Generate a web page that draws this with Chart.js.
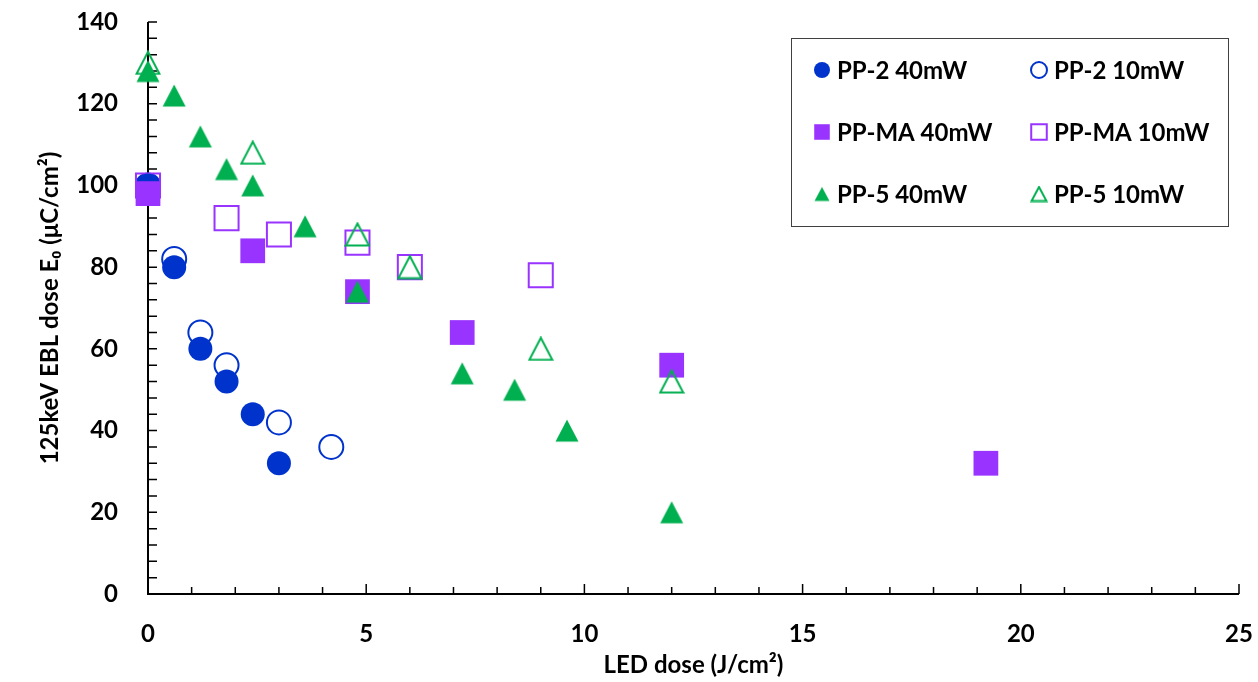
<!DOCTYPE html>
<html lang="en">
<head>
<meta charset="UTF-8">
<title>EBL dose vs LED dose</title>
<script src="https://cdn.jsdelivr.net/npm/chart.js"></script>
<style>
  body { margin: 0; background: #fff; }
  #wrap { width: 1258px; height: 682px; }
</style>
</head>
<body>
<div id="wrap"><canvas id="chart"></canvas></div>
<script>
// data
const pp2_40_x = [0, 0.6, 1.2, 1.8, 2.4, 3.0];
const pp2_40_y = [100, 80, 60, 52, 44, 32];
const pp2_10_x = [0, 0.6, 1.2, 1.8, 3.0, 4.2];
const pp2_10_y = [100, 82, 64, 56, 42, 36];
const ppma_40_x = [0, 2.4, 4.8, 7.2, 12, 19.2];
const ppma_40_y = [98, 84, 74, 64, 56, 32];
const ppma_10_x = [0, 1.8, 3.0, 4.8, 6.0, 9.0];
const ppma_10_y = [100, 92, 88, 86, 80, 78];
const pp5_40_x = [0, 0.6, 1.2, 1.8, 2.4, 3.6, 4.8, 7.2, 8.4, 9.6, 12];
const pp5_40_y = [128, 122, 112, 104, 100, 90, 74, 54, 50, 40, 20];
const pp5_10_x = [0, 2.4, 4.8, 6.0, 9.0, 12];
const pp5_10_y = [130, 108, 88, 80, 60, 52];

const xTicks = [0, 5, 10, 15, 20, 25];
const yTicks = [0, 20, 40, 60, 80, 100, 120, 140];

const BLUE = '#0033CC', PURPLE = '#9933FF', GREEN = '#00B050';
const FONT = 'Lato, "Open Sans", sans-serif';

function pts(xs, ys) { return xs.map((x, i) => ({ x: x, y: ys[i] })); }

// excel-like triangle, centred in its own box
function tri(w, h, filled, color) {
    const c = document.createElement('canvas');
    c.width = w; c.height = h;
    const g = c.getContext('2d');
    g.beginPath();
    g.moveTo(w / 2, 1.5); g.lineTo(w - 1.5, h - 1.5); g.lineTo(1.5, h - 1.5); g.closePath();
    if (filled) { g.fillStyle = color; g.fill(); }
    else { g.strokeStyle = color; g.lineWidth = 2; g.stroke(); }
    return c;
}

function ds(label, xs, ys, color, style, filled, radius, order) {
    return {
        label: label,
        data: pts(xs, ys),
        pointStyle: style,
        pointRadius: radius,
        pointHoverRadius: radius,
        pointBackgroundColor: filled ? color : 'rgba(0,0,0,0)',
        pointBorderColor: color,
        pointBorderWidth: filled ? 0 : 2,
        showLine: false,
        clip: false,
        order: order
    };
}

const datasets = [
    ds('PP-2 40mW', pp2_40_x, pp2_40_y, BLUE, 'circle', true, 12, 4),
    ds('PP-2 10mW', pp2_10_x, pp2_10_y, BLUE, 'circle', false, 12, 6),
    ds('PP-MA 40mW', ppma_40_x, ppma_40_y, PURPLE, 'rect', true, 17.5, 3),
    ds('PP-MA 10mW', ppma_10_x, ppma_10_y, PURPLE, 'rect', false, 17, 5),
    ds('PP-5 40mW', pp5_40_x, pp5_40_y, GREEN, tri(26, 25, true, GREEN), true, 13, 2),
    ds('PP-5 10mW', pp5_10_x, pp5_10_y, GREEN, tri(26, 25, false, GREEN), false, 13, 1)
];
const legendTri = [tri(18, 17, true, GREEN), tri(18, 17, false, GREEN)];

// axes with inward ticks, plus boxed two-column legend
const frame = {
    id: 'frame',
    beforeDatasetsDraw(chart) {
        const ctx = chart.ctx, a = chart.chartArea;
        const xs = chart.scales.x, ys = chart.scales.y;
        ctx.save();
        ctx.strokeStyle = '#000';
        ctx.lineWidth = 2;
        ctx.beginPath();
        ctx.moveTo(a.left, a.top); ctx.lineTo(a.left, a.bottom); ctx.lineTo(a.right, a.bottom);
        ctx.stroke();
        ctx.lineWidth = 1.5;
        ctx.beginPath();
        for (let v = 0; v <= 25; v++) {
            const px = xs.getPixelForValue(v);
            const len = v % 5 === 0 ? 10 : 7;
            ctx.moveTo(px, a.bottom); ctx.lineTo(px, a.bottom - len);
        }
        for (let v = 0; v <= 140; v += 4) {
            const py = ys.getPixelForValue(v);
            ctx.moveTo(a.left, py); ctx.lineTo(a.left + 9, py);
        }
        ctx.stroke();
        ctx.restore();
    },
    afterDatasetsDraw(chart) {
        const ctx = chart.ctx;
        ctx.save();
        const bx = 791, by = 38, bw = 437, bh = 188;
        ctx.fillStyle = '#fff';
        ctx.fillRect(bx, by, bw, bh);
        ctx.strokeStyle = '#404040';
        ctx.lineWidth = 1;
        ctx.strokeRect(bx + 0.5, by + 0.5, bw, bh);
        const colX = [822, 1039], rowY = [70, 132, 194];
        ctx.font = 'bold 24px ' + FONT;
        ctx.textBaseline = 'middle';
        ctx.textAlign = 'left';
        chart.data.datasets.forEach((d, i) => {
            const cx = colX[i % 2], cy = rowY[Math.floor(i / 2)];
            let style = d.pointStyle;
            if (typeof style !== 'string') style = legendTri[i % 2];
            const r = style === 'rect' ? 11 : 8;
            ctx.fillStyle = d.pointBackgroundColor;
            ctx.strokeStyle = d.pointBorderColor;
            ctx.lineWidth = d.pointBorderWidth || 0;
            Chart.helpers.drawPoint(ctx, { pointStyle: style, radius: r, borderWidth: d.pointBorderWidth, rotation: 0 }, cx, cy);
            ctx.fillStyle = '#000';
            ctx.fillText(d.label, cx + 15, cy + 1);
        });
        ctx.restore();
    }
};

new Chart(document.getElementById('chart'), {
    type: 'scatter',
    data: { datasets: datasets },
    plugins: [frame],
    options: {
        responsive: true,
        maintainAspectRatio: false,
        animation: false,
        layout: { padding: { top: 22, right: 18, left: 0, bottom: 0 } },
        plugins: {
            legend: { display: false },
            tooltip: { enabled: false }
        },
        scales: {
            x: {
                type: 'linear',
                min: 0, max: 25,
                afterBuildTicks: s => { s.ticks = xTicks.map(v => ({ value: v })); },
                afterFit: s => { s.height = 88; s.paddingLeft = 0; s.paddingRight = 0; },
                grid: { display: false, drawTicks: false },
                border: { display: false },
                ticks: { padding: 26, color: '#000', font: { family: FONT, size: 24, weight: 'bold' } },
                title: {
                    display: true, text: 'LED dose (J/cm²)', color: '#000',
                    font: { family: FONT, size: 24, weight: 'bold' }, padding: { top: 2, bottom: 2 }
                }
            },
            y: {
                type: 'linear',
                min: 0, max: 140,
                afterBuildTicks: s => { s.ticks = yTicks.map(v => ({ value: v })); },
                afterFit: s => { s.width = 148; s.paddingTop = 0; s.paddingBottom = 0; },
                grid: { display: false, drawTicks: false },
                border: { display: false },
                ticks: { padding: 30, color: '#000', font: { family: FONT, size: 24, weight: 'bold' } },
                title: {
                    display: true, text: '125keV EBL dose E₀ (μC/cm²)', color: '#000',
                    font: { family: FONT, size: 24, weight: 'bold' }, padding: { top: 36, bottom: 0 }
                }
            }
        }
    }
});
</script>
</body>
</html>
